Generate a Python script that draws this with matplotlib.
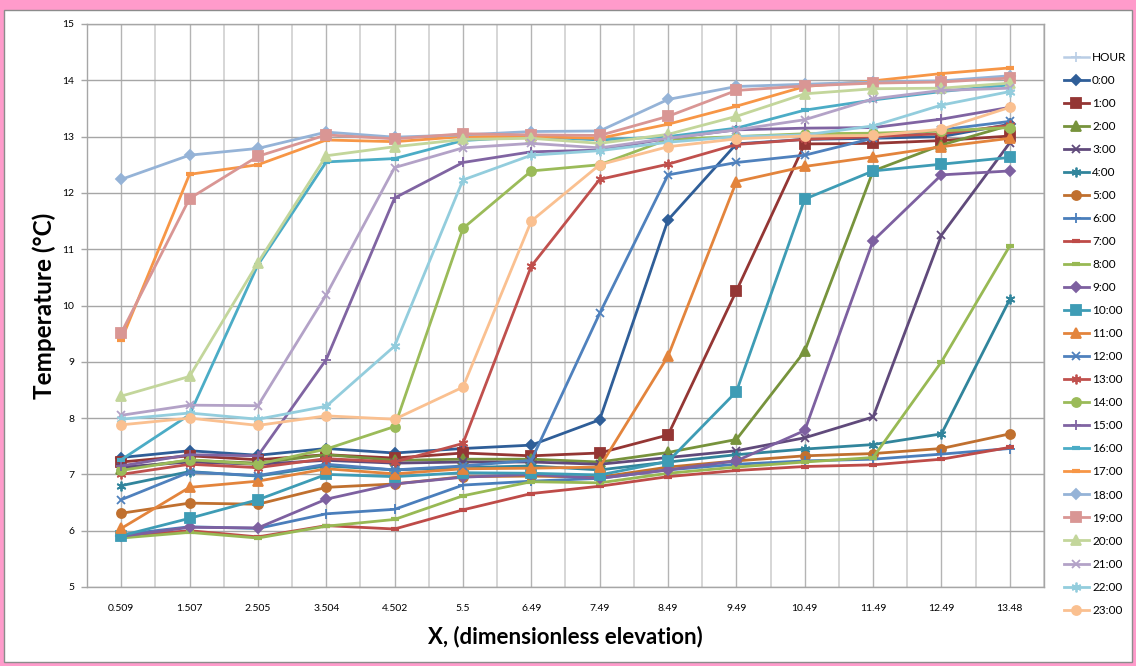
"""
Temperature profiles along the dimensionless elevation, one line per hour.
Output: out.png
"""

import matplotlib
import matplotlib.pyplot as plt
from matplotlib.lines import Line2D
from matplotlib.patches import Rectangle

matplotlib.use("Agg")

X_LABELS = ["0.509", "1.507", "2.505", "3.504", "4.502", "5.5", "6.49",
            "7.49", "8.49", "9.49", "10.49", "11.49", "12.49", "13.48"]
HOURS = [f"{h}:00" for h in range(24)]

T00 = [7.30, 7.42, 7.34, 7.46, 7.38, 7.46, 7.52, 7.97, 11.52, 12.87, 12.95, 12.97, 13.00, 13.22]
T01 = [7.22, 7.33, 7.26, 7.35, 7.29, 7.38, 7.33, 7.38, 7.70, 10.26, 12.87, 12.88, 12.93, 13.01]
T02 = [7.10, 7.25, 7.20, 7.35, 7.25, 7.27, 7.27, 7.22, 7.39, 7.62, 9.19, 12.39, 12.85, 13.20]
T03 = [7.13, 7.22, 7.18, 7.25, 7.20, 7.22, 7.22, 7.18, 7.30, 7.42, 7.65, 8.02, 11.25, 12.89]
T04 = [6.80, 7.05, 6.97, 7.15, 7.08, 7.12, 7.15, 7.08, 7.22, 7.35, 7.45, 7.53, 7.72, 10.11]
T05 = [6.31, 6.49, 6.47, 6.77, 6.83, 6.96, 6.97, 6.95, 7.13, 7.24, 7.33, 7.37, 7.46, 7.72]
T06 = [5.93, 6.07, 6.04, 6.30, 6.38, 6.81, 6.88, 6.93, 7.08, 7.18, 7.24, 7.27, 7.36, 7.46]
T07 = [5.90, 6.00, 5.89, 6.09, 6.03, 6.37, 6.66, 6.79, 6.96, 7.07, 7.14, 7.17, 7.27, 7.48]
T08 = [5.87, 5.97, 5.87, 6.08, 6.20, 6.62, 6.87, 6.85, 7.02, 7.13, 7.22, 7.30, 9.00, 11.06]
T09 = [5.90, 6.06, 6.05, 6.56, 6.83, 6.95, 7.00, 6.93, 7.08, 7.24, 7.78, 11.15, 12.32, 12.39]
T10 = [5.91, 6.22, 6.55, 7.00, 6.96, 7.03, 7.02, 6.99, 7.23, 8.47, 11.89, 12.39, 12.51, 12.63]
T11 = [6.04, 6.77, 6.88, 7.10, 7.01, 7.10, 7.11, 7.13, 9.10, 12.20, 12.47, 12.64, 12.82, 12.97]
T12 = [6.55, 7.04, 6.98, 7.18, 7.08, 7.15, 7.25, 9.86, 12.32, 12.54, 12.67, 12.97, 13.12, 13.27]
T13 = [7.00, 7.18, 7.12, 7.28, 7.22, 7.55, 10.70, 12.24, 12.51, 12.86, 12.95, 13.00, 13.05, 13.20]
T14 = [7.07, 7.26, 7.18, 7.45, 7.85, 11.37, 12.39, 12.50, 12.95, 13.00, 13.05, 13.06, 13.10, 13.16]
T15 = [7.15, 7.35, 7.33, 9.04, 11.91, 12.54, 12.73, 12.76, 12.97, 13.12, 13.15, 13.16, 13.31, 13.52]
T16 = [7.26, 8.06, 10.72, 12.55, 12.61, 12.93, 13.00, 12.94, 13.00, 13.15, 13.47, 13.65, 13.80, 13.92]
T17 = [9.38, 12.33, 12.50, 12.94, 12.91, 13.00, 13.00, 12.97, 13.22, 13.54, 13.89, 13.99, 14.12, 14.22]
T18 = [12.24, 12.67, 12.79, 13.08, 12.99, 13.03, 13.09, 13.10, 13.66, 13.89, 13.93, 13.97, 13.99, 14.08]
T19 = [9.51, 11.90, 12.65, 13.03, 12.96, 13.05, 13.03, 13.02, 13.36, 13.82, 13.90, 13.95, 13.97, 14.04]
T20 = [8.39, 8.74, 10.76, 12.66, 12.82, 12.95, 12.97, 12.88, 13.04, 13.36, 13.76, 13.85, 13.86, 13.95]
T21 = [8.05, 8.23, 8.22, 10.19, 12.45, 12.80, 12.88, 12.80, 12.97, 13.12, 13.30, 13.67, 13.82, 13.86]
T22 = [7.98, 8.09, 7.98, 8.21, 9.28, 12.23, 12.67, 12.75, 12.90, 13.00, 13.03, 13.19, 13.56, 13.80]
T23 = [7.88, 8.00, 7.87, 8.04, 7.98, 8.55, 11.50, 12.50, 12.82, 12.96, 13.01, 13.02, 13.13, 13.52]

SERIES = [T00, T01, T02, T03, T04, T05, T06, T07, T08, T09, T10, T11,
          T12, T13, T14, T15, T16, T17, T18, T19, T20, T21, T22, T23]

COLORS = ["#2F5E98", "#943634", "#77933C", "#604A7B", "#31859C", "#C0702F",
          "#4A7EBB", "#BE4B48", "#98B954", "#7D60A0", "#3E9CB5", "#E3843C",
          "#4F81BD", "#C0504D", "#9BBB59", "#8064A2", "#4BACC6", "#F79646",
          "#95B3D7", "#D99694", "#C3D69B", "#B3A2C7", "#93CDDD", "#FAC090"]
STAR = (6, 2, 0)
MARKERS = ["D", "s", "^", "x", STAR, "o", "+", "_", "_", "D", "s", "^",
           "x", STAR, "o", "+", "_", "_", "D", "s", "^", "x", STAR, "o"]
SIZES = {"D": 5.5, "s": 6.5, "^": 6.5, "x": 6, STAR: 7, "o": 6.5, "+": 7, "_": 6}

FONT = ["Lato", "DejaVu Sans"]


def main():
    fig = plt.figure(figsize=(11.36, 6.66), dpi=100)
    fig.patch.set_facecolor("#FF9BCB")
    fig.patches.append(Rectangle((4 / 1136, 4 / 666), 1128 / 1136, 652 / 666,
                                 transform=fig.transFigure, facecolor="white",
                                 edgecolor="#8C8C8C", linewidth=1.0, zorder=-10))

    ax = fig.add_axes([87 / 1136, 1 - 587 / 666, 957 / 1136, 563 / 666])
    ax.set_facecolor("white")
    x = list(range(len(X_LABELS)))

    # grid: darker lines on categories, lighter on boundaries
    for xi in x:
        ax.axvline(xi, color="#B4B4B4", lw=1.0, zorder=0)
        ax.axvline(xi + 0.5, color="#D6D6D6", lw=1.4, zorder=0)
    for yv in range(5, 16):
        ax.axhline(yv, color="#A6A6A6", lw=1.0, zorder=0)

    handles = [Line2D([], [], color="#B9CDE5", lw=1.8, marker="+", ms=7,
                      mew=1.2, label="HOUR")]
    for label, vals, col, mk in zip(HOURS, SERIES, COLORS, MARKERS):
        mew = 3.0 if mk == "_" else 1.3
        line, = ax.plot(x, vals, color=col, lw=2.0, marker=mk, ms=SIZES[mk],
                        mew=mew, mec=col, mfc=col, label=label, zorder=3)
        handles.append(line)

    ax.set_xlim(-0.5, len(X_LABELS) - 0.5)
    ax.set_ylim(5, 15)
    ax.set_xticks(x)
    ax.set_xticklabels(X_LABELS, fontsize=7.5, family=FONT)
    ax.set_yticks(range(5, 16))
    ax.set_yticklabels([str(v) for v in range(5, 16)], fontsize=7.5, family=FONT)
    ax.tick_params(axis="x", length=0, pad=12)
    ax.tick_params(axis="y", length=4, width=1.0, color="#A6A6A6",
                   direction="out", pad=5)
    for spine in ax.spines.values():
        spine.set_edgecolor("#A6A6A6")
        spine.set_linewidth(1.0)

    ax.set_xlabel("X, (dimensionless elevation)", fontsize=16, fontweight="bold",
                  family=FONT, labelpad=9)
    ax.set_ylabel("Temperature (°C)", fontsize=17.5, fontweight="bold",
                  family=FONT, labelpad=5)

    fig.legend(handles=handles, loc="upper left",
               bbox_to_anchor=(1059 / 1136, 1 - 47 / 666), frameon=False,
               prop={"family": FONT, "size": 8.5}, labelspacing=1.02,
               handlelength=2.1, handletextpad=0.3, borderaxespad=0)

    fig.savefig("out.png", dpi=100, facecolor=fig.get_facecolor())
    plt.close(fig)


if __name__ == "__main__":
    main()
